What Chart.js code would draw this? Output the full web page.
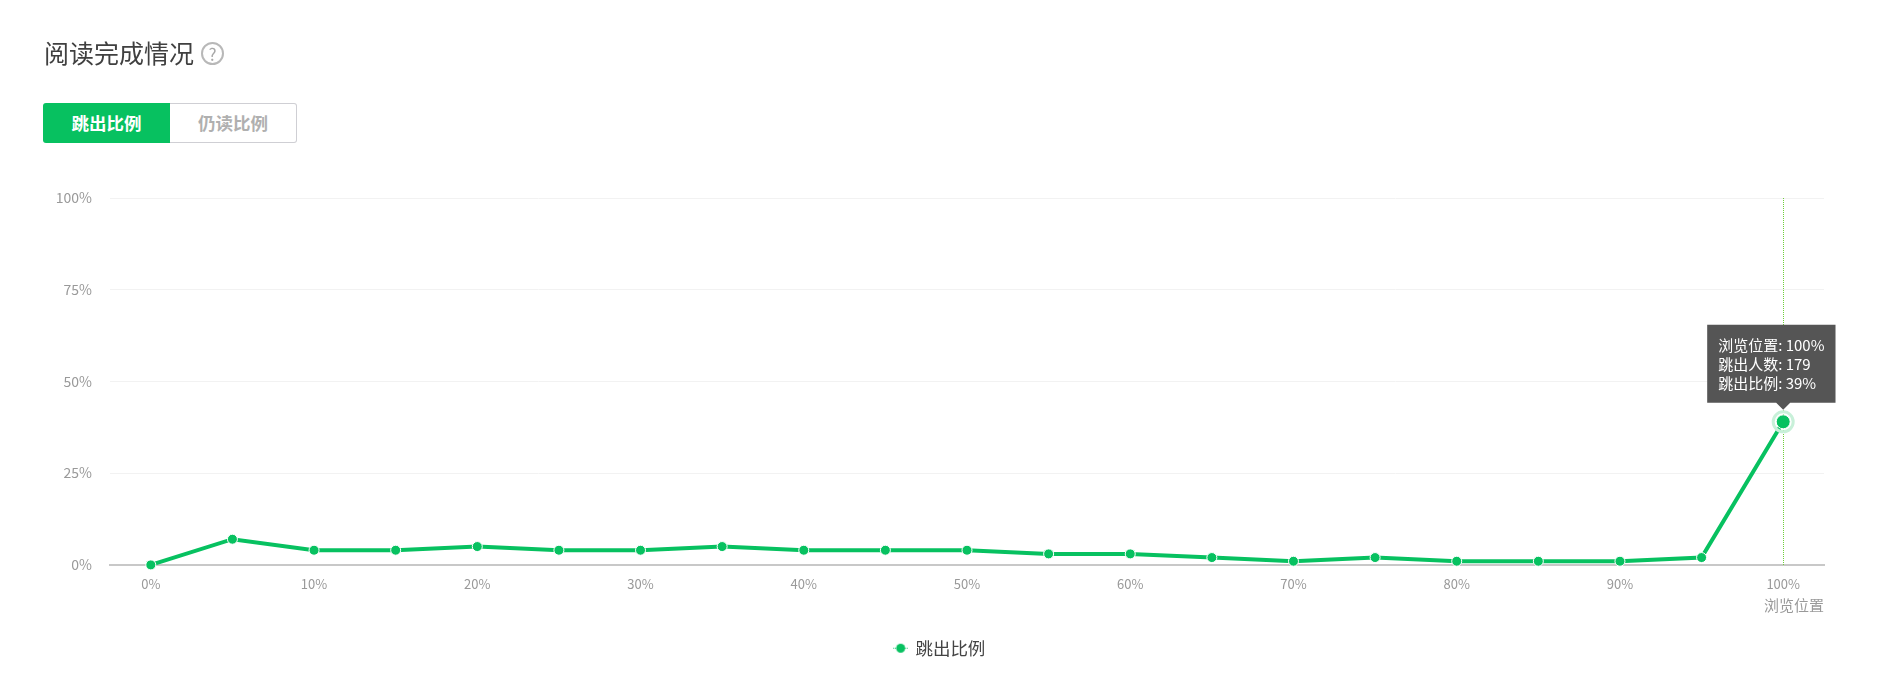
<!DOCTYPE html>
<html>
<head>
<meta charset="utf-8">
<title>阅读完成情况</title>
<script src="https://cdn.jsdelivr.net/npm/chart.js@4"></script>
<style>
html, body { margin: 0; padding: 0; background: #fff; overflow: hidden; }
body { width: 1886px; height: 697px; position: relative; font-family: "Noto Sans CJK SC", sans-serif; }
#title { position: absolute; left: 44px; top: 34px; font-size: 25px; line-height: 36px; color: #404040; }
#help { position: absolute; left: 201px; top: 42px; width: 19px; height: 19px; border: 2px solid #b8b8b8; border-radius: 50%; color: #a8a8a8; font-size: 17px; line-height: 19px; text-align: center; }
#tabs { position: absolute; left: 43px; top: 103px; display: flex; height: 40px; font-size: 17.5px; font-weight: 700; line-height: 38px; text-align: center; box-sizing: border-box; }
#tabs div { width: 127px; height: 40px; box-sizing: border-box; }
#tabs .on { background: #07c160; color: #fff; border-radius: 3px 0 0 3px; line-height: 40px; }
#tabs .off { background: #fff; color: #b0b0b0; border: 1px solid #cfcfd4; border-left: none; border-radius: 0 3px 3px 0; }
#wrap { position: absolute; left: 0; top: 0; width: 1886px; height: 697px; }
</style>
</head>
<body>
<div id="wrap"><canvas id="myChart" width="1886" height="697"></canvas></div>
<div id="title">阅读完成情况</div>
<div id="help">?</div>
<div id="tabs"><div class="on">跳出比例</div><div class="off">仍读比例</div></div>
<script>
// Chart data
var positions = ['0%', '5%', '10%', '15%', '20%', '25%', '30%', '35%', '40%', '45%', '50%',
    '55%', '60%', '65%', '70%', '75%', '80%', '85%', '90%', '95%', '100%'];
var exitRatio = [0, 7, 4, 4, 5, 4, 4, 5, 4, 4, 4, 3, 3, 2, 1, 2, 1, 1, 1, 2, 39];
var yTicks = [0, 25, 50, 75, 100];

// The one point the tooltip is open on
var activeIndex = 20;
var activeExitCount = 179;

var green = '#07c160';
var tickColor = '#999';
var fontFamily = '"Noto Sans CJK SC", sans-serif';

// Legend marker: a dot on a short dotted line
var legendMark = document.createElement('canvas');
legendMark.width = 16;
legendMark.height = 13;
var markCtx = legendMark.getContext('2d');
markCtx.strokeStyle = green;
markCtx.setLineDash([1, 1]);
markCtx.beginPath();
markCtx.moveTo(0, 6.5);
markCtx.lineTo(16, 6.5);
markCtx.stroke();
markCtx.fillStyle = green;
markCtx.beginPath();
markCtx.arc(8, 6.5, 4.5, 0, Math.PI * 2);
markCtx.fill();

// Ring round the active point and the dotted line through it
var activeMarkPlugin = {
    id: 'activeMark',
    // Legend is centred on the page, not on the space left by the right padding
    afterLayout: function(chart) {
        chart.legend.left += 28;
        chart.legend.right += 28;
    },
    beforeDatasetsDraw: function(chart) {
        var active = chart.getActiveElements()[0];
        if (!active) return;
        var ctx = chart.ctx;
        var area = chart.chartArea;
        ctx.save();
        ctx.strokeStyle = '#6fce3a';
        ctx.lineWidth = 1;
        ctx.setLineDash([1, 1]);
        ctx.beginPath();
        ctx.moveTo(Math.round(active.element.x) + 0.5, area.top);
        ctx.lineTo(Math.round(active.element.x) + 0.5, area.bottom);
        ctx.stroke();
        ctx.restore();
    },
    afterDatasetsDraw: function(chart) {
        var active = chart.getActiveElements()[0];
        if (!active) return;
        var ctx = chart.ctx;
        ctx.save();
        ctx.strokeStyle = '#c8f0d9';
        ctx.lineWidth = 3;
        ctx.beginPath();
        ctx.arc(active.element.x, active.element.y, 10, 0, Math.PI * 2);
        ctx.stroke();
        ctx.restore();
    },
    // The tooltip box sits off-centre over its caret, near the right edge
    beforeTooltipDraw: function(chart, args) {
        args.tooltip.x = args.tooltip.caretX - 76;
    }
};

var ctx = document.getElementById('myChart').getContext('2d');

var myChart = new Chart(ctx, {
    type: 'line',
    data: {
        labels: positions,
        datasets: [{
            label: '跳出比例',
            data: exitRatio,
            borderColor: green,
            backgroundColor: green,
            borderWidth: 4,
            tension: 0,
            clip: false,
            pointRadius: 5,
            pointBackgroundColor: green,
            pointBorderColor: '#fff',
            pointBorderWidth: 1,
            pointHoverRadius: 7,
            pointHoverBackgroundColor: green,
            pointHoverBorderColor: '#fff',
            pointHoverBorderWidth: 1
        }]
    },
    options: {
        responsive: false,
        maintainAspectRatio: false,
        animation: false,
        events: [],
        layout: { padding: { left: 0, right: 62, top: 198, bottom: 30 } },
        scales: {
            x: {
                offset: true,
                grid: { display: false },
                border: { color: '#c8c8c8', width: 2 },
                ticks: {
                    autoSkip: false,
                    maxRotation: 0,
                    padding: 3,
                    color: tickColor,
                    font: { family: fontFamily, size: 13 },
                    callback: function(value, index) {
                        return index % 2 === 0 ? this.getLabelForValue(value) : '';
                    }
                },
                title: {
                    display: true,
                    text: '浏览位置',
                    align: 'end',
                    color: tickColor,
                    padding: { top: 2, bottom: 0 },
                    font: { family: fontFamily, size: 15 }
                }
            },
            y: {
                min: 0,
                max: 100,
                afterFit: function(axis) { axis.width = 110; },
                afterBuildTicks: function(axis) {
                    axis.ticks = yTicks.map(function(v) { return { value: v }; });
                },
                grid: { color: '#f2f2f2', drawTicks: false },
                border: { display: false },
                ticks: {
                    padding: 18,
                    color: tickColor,
                    font: { family: fontFamily, size: 14 },
                    callback: function(value) { return value + '%'; }
                }
            }
        },
        plugins: {
            legend: {
                position: 'bottom',
                labels: {
                    usePointStyle: true,
                    pointStyle: legendMark,
                    pointStyleWidth: 12,
                    color: '#444',
                    padding: 25,
                    font: { family: fontFamily, size: 17.5 }
                }
            },
            tooltip: {
                animation: false,
                enabled: true,
                xAlign: 'center',
                yAlign: 'bottom',
                backgroundColor: '#555',
                cornerRadius: 0,
                caretSize: 7,
                caretPadding: 12,
                padding: { left: 11, right: 11, top: 11, bottom: 11 },
                displayColors: false,
                bodyColor: '#fff',
                bodySpacing: 1,
                bodyFont: { family: fontFamily, size: 15 },
                callbacks: {
                    title: function() { return ''; },
                    label: function(item) {
                        return [
                            '浏览位置: ' + item.label,
                            '跳出人数: ' + activeExitCount,
                            '跳出比例: ' + item.raw + '%'
                        ];
                    }
                }
            }
        }
    },
    plugins: [activeMarkPlugin]
});

// Open the tooltip on the last point
var activePoint = [{ datasetIndex: 0, index: activeIndex }];
myChart.setActiveElements(activePoint);
myChart.tooltip.setActiveElements(activePoint, { x: 0, y: 0 });
myChart.update();
</script>
</body>
</html>
